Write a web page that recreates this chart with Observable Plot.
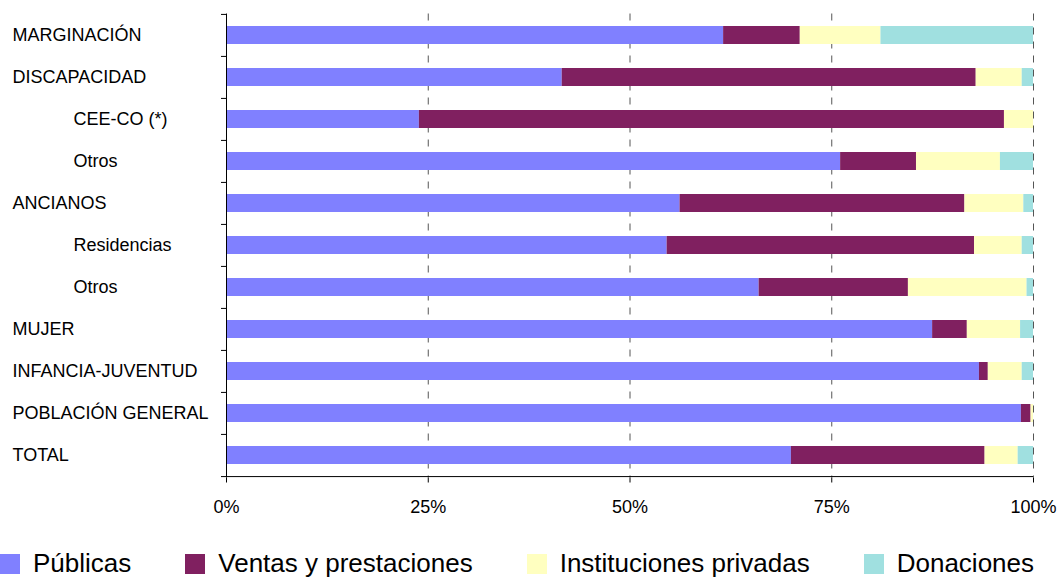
<!DOCTYPE html>
<html>
<head>
<meta charset="utf-8">
<script src="https://cdn.jsdelivr.net/npm/d3@7"></script>
<script src="https://cdn.jsdelivr.net/npm/@observablehq/plot@0.6"></script>
<style>
  html, body { margin: 0; padding: 0; background: #fff; overflow: hidden; }
  #chart svg { display: block; }
  #legend { position: relative; height: 38px; display: flex; flex-direction: row; align-items: flex-start; }
  .item { display: flex; align-items: flex-start; margin-right: 54px; }
  .sw { width: 20px; height: 20px; margin-top: 14px; margin-right: 13px; }
  .lab { font-family: "Liberation Sans", Arial, sans-serif; font-size: 26px; line-height: 26px; margin-top: 9.5px; color: #000; white-space: nowrap; }
</style>
</head>
<body>
<div id="chart"></div>
<div id="legend"></div>
<script>
// ---- Data (percent of total income by source) ----
const categories = ["MARGINACIÓN", "DISCAPACIDAD", "CEE-CO (*)", "Otros", "ANCIANOS", "Residencias", "Otros", "MUJER", "INFANCIA-JUVENTUD", "POBLACIÓN GENERAL", "TOTAL"];
const indentLevel = [0, 0, 1, 1, 0, 1, 1, 0, 0, 0, 0];
const seriesNames = ["Públicas", "Ventas y prestaciones", "Instituciones privadas", "Donaciones"];
const publicas      = [61.6, 41.6, 23.9, 76.1, 56.2, 54.6, 66.0, 87.5, 93.3, 98.5, 70.0];
const ventas        = [ 9.5, 51.3, 72.5,  9.4, 35.3, 38.1, 18.5,  4.3,  1.1,  1.2, 24.0];
const instituciones = [10.0,  5.7,  3.6, 10.4,  7.3,  5.9, 14.7,  6.6,  4.2,  0.3,  4.1];
const donaciones    = [18.9,  1.4,  0.0,  4.1,  1.2,  1.4,  0.8,  1.6,  1.4,  0.0,  1.9];
const xTicks = [0, 25, 50, 75, 100];
const gridTicks = [25, 50, 75, 100];
const seriesColors = ["#8080FF", "#802060", "#FFFFC0", "#A0E0E0"];

// ---- Build table ----
const seriesValues = [publicas, ventas, instituciones, donaciones];
const rows = [];
categories.forEach((c, i) => {
  seriesNames.forEach((s, j) => rows.push({row: i, series: s, value: seriesValues[j][i]}));
});
const labelRows = categories.map((c, i) => ({row: i, label: c, level: indentLevel[i]}));
const rowIds = categories.map((c, i) => i);

// ---- Layout ----
const W = 1057, H = 540, mt = 13.5, mb = 62.5, ml = 226, mr = 24;
const step = (H - mt - mb) / categories.length;
const font = '"Liberation Sans", Arial, sans-serif';

const chart = Plot.plot({
  width: W,
  height: H,
  marginTop: mt,
  marginBottom: mb,
  marginLeft: ml,
  marginRight: mr,
  style: {fontFamily: font, background: "#fff", color: "#000", overflow: "visible"},
  x: {domain: [0, 100], axis: null, label: null},
  y: {domain: rowIds, paddingInner: 0.57, paddingOuter: 0.285, align: 0.5, axis: null, label: null},
  color: {domain: seriesNames, range: seriesColors},
  marks: [
    Plot.ruleX(gridTicks, {stroke: "#555", strokeWidth: 1, strokeDasharray: "7,7"}),
    Plot.barX(rows, Plot.stackX({x: "value", y: "row", fill: "series", order: seriesNames})),
    Plot.ruleX([0], {stroke: "#000", strokeWidth: 1}),
    Plot.ruleY([rowIds[rowIds.length - 1]], {dy: step / 2, stroke: "#000", strokeWidth: 1}),
    // boundary ticks on the category axis
    Plot.axisY(rowIds, {tickSize: 5, tickFormat: () => "", dy: -step / 2, stroke: "#000", label: null}),
    Plot.axisY([rowIds[rowIds.length - 1]], {tickSize: 5, tickFormat: () => "", dy: step / 2, stroke: "#000", label: null}),
    Plot.axisX(xTicks, {tickSize: 5, tickPadding: 17, fontSize: 18, tickFormat: d => d + "%", stroke: "#000", fill: "#000", label: null}),
    // category labels
    Plot.text(labelRows.filter(d => d.level === 0), {y: "row", text: "label", frameAnchor: "left", textAnchor: "start", dx: -214, fontSize: 18, fill: "#000"}),
    Plot.text(labelRows.filter(d => d.level === 1), {y: "row", text: "label", frameAnchor: "left", textAnchor: "start", dx: -153, fontSize: 18, fill: "#000"})
  ]
});
document.getElementById("chart").appendChild(chart);

// ---- Legend ----
const legend = document.getElementById("legend");
seriesNames.forEach((s, i) => {
  const item = document.createElement("div");
  item.className = "item";
  const sw = document.createElement("div");
  sw.className = "sw";
  sw.style.background = seriesColors[i];
  const lab = document.createElement("div");
  lab.className = "lab";
  lab.textContent = s;
  item.appendChild(sw);
  item.appendChild(lab);
  legend.appendChild(item);
});
</script>
</body>
</html>
